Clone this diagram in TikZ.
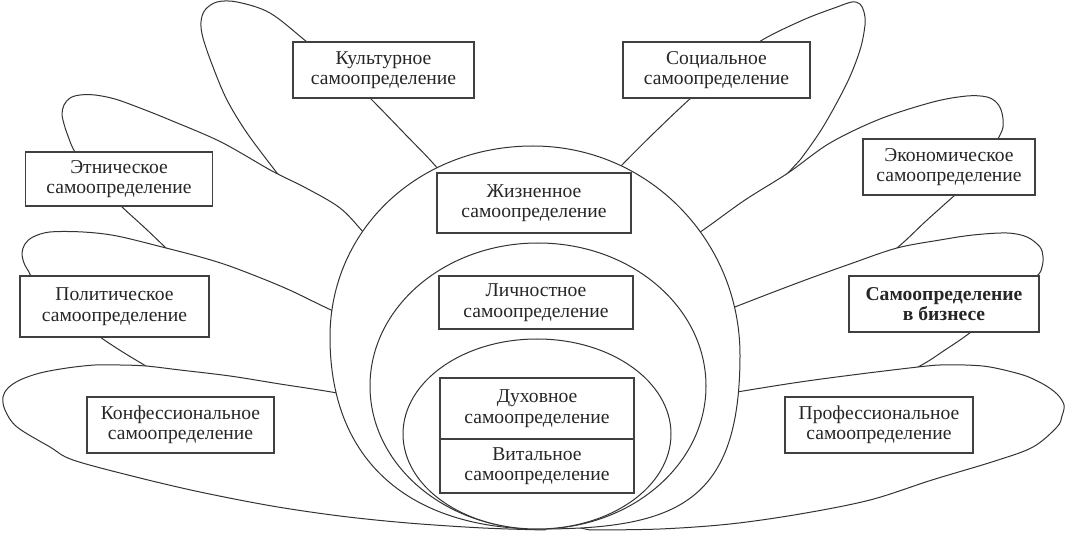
\documentclass[tikz,border=0pt]{standalone}
\usepackage{fontspec}
\setmainfont{Liberation Serif}
\begin{document}
\tikzset{
  petal/.style={draw=black!80, line width=1pt, fill=white, line join=round},
  ring/.style={draw=black!80, line width=1pt, fill=white},
  box/.style={draw=black!75, line width=1.2pt, fill=white, inner sep=0pt, align=center,
    font=\fontsize{19.6}{20.5}\selectfont, text=black!85},
  sm/.style={smooth, tension=0.55}
}
\begin{tikzpicture}[x=1pt,y=-1pt]
\useasboundingbox (0,0) rectangle (1066,534);
\fill[white] (0,0) rectangle (1066,534);

% ---------- left petals ----------
% culture
\path[petal] (535,515) -- plot[sm] coordinates {(470,212) (439,170) (404,133) (370,98) (337,66) (307,42) (270,13) (237,2) (217,2) (205,10) (201,22) (203,38) (213,67) (227,100) (247,133) (277,173) (310,215) (345,262) (400,330)} -- cycle;
% ethnic
\path[petal] (535,515) -- plot[sm] coordinates {(405,280) (364,233) (340,208) (306,188) (272,171) (221,142) (170,120) (140,108) (115,99) (95,95) (80,95) (70,98) (64,105) (62,114) (64,124) (68,136) (75,152) (95,180) (121,206) (145,228) (166,248) (205,285) (260,325) (330,370) (390,400)} -- cycle;
% political
\path[petal] (535,515) -- plot[sm] coordinates {(380,332) (331,310) (285,288) (235,268) (204,258) (166,248) (117,236) (83,232) (50,232) (33,237) (25,244) (22,253) (24,263) (29,272) (33,278) (60,305) (100,337) (146,366) (200,395) (270,425) (350,455) (410,472)} -- cycle;
% confessional
\path[petal] (560,515) -- plot[sm] coordinates {(395,405) (337,393) (280,384) (230,376) (180,370) (146,366) (120,365) (95,365) (67,368) (40,373) (20,380) (8,388) (3,397) (5,410) (17,427) (50,447) (73,460) (136,477) (200,492) (272,506) (340,516) (408,523) (483,528) (545,530)} -- cycle;

% ---------- right petals ----------
% social
\path[petal] (535,515) -- plot[sm] coordinates {(585,205) (622,165) (656,131) (691,98) (725,70) (759,42) (803,20) (837,7) (852,2) (860,4) (864,12) (865,25) (860,50) (847,83) (823,127) (800,160) (788,173) (760,205) (725,245) (690,290)} -- cycle;
% economic
\path[petal] (535,515) -- plot[sm] coordinates {(665,256) (706,228) (745,200) (788,173) (830,143) (880,119) (933,102) (967,96) (987,97) (997,103) (1002,113) (1003,127) (998,139) (988,160) (972,180) (955,195) (926,221) (897,248) (850,285) (790,330) (720,380)} -- cycle;
% business
\path[petal] (535,515) -- plot[sm] coordinates {(690,325) (740,305) (800,282) (850,264) (897,248) (940,240) (973,235) (1007,233) (1027,237) (1040,247) (1043,257) (1042,267) (1037,276) (1010,300) (971,332) (945,350) (918,367) (860,395) (790,420) (700,445)} -- cycle;
% professional
\path[petal] (520,515) -- plot[sm] coordinates {(690,400) (737,392) (800,382) (860,374) (918,367) (940,365) (965,365) (990,367) (1023,375) (1043,384) (1057,394) (1064,405) (1062,416) (1057,427) (1033,447) (995,461) (932,480) (870,500) (800,514) (730,524) (660,529) (590,530)} -- cycle;

% ---------- central shapes ----------
\path[ring] (533,146) .. controls (648,146) and (740,240) .. (740,355)
  .. controls (740,500) and (680,529) .. (540,529)
  .. controls (420,529) and (330,470) .. (330,337)
  .. controls (330,230) and (418,146) .. (533,146) -- cycle;
\path[ring] (538,386) ellipse [x radius=168pt, y radius=143pt];
\path[ring] (537,434) ellipse [x radius=134pt, y radius=95pt];

% ---------- boxes ----------
\node[box, minimum width=181pt, minimum height=56pt] (cult) at (383.5,70) {Культурное\\самоопределение};
\node[box, minimum width=187pt, minimum height=56pt] (soc) at (716.5,70) {Социальное\\самоопределение};
\node[box, minimum width=187pt, minimum height=54pt] (eth) at (119,179) {Этническое\\самоопределение};
\node[box, minimum width=172pt, minimum height=56pt] (econ) at (949,167) {Экономическое\\самоопределение};
\node[box, minimum width=194pt, minimum height=60pt] (life) at (534,203) {Жизненное\\самоопределение};
\node[box, minimum width=189pt, minimum height=61pt] (pol) at (114.5,306.5) {Политическое\\самоопределение};
\node[box, minimum width=190pt, minimum height=56pt, font=\fontsize{19.6}{20.5}\selectfont\bfseries] (bus) at (944,304) {Самоопределение\\в бизнесе};
\node[box, minimum width=187pt, minimum height=56pt] (conf) at (180.5,425) {Конфессиональное\\самоопределение};
\node[box, minimum width=188pt, minimum height=56pt] (prof) at (879,425) {Профессиональное\\самоопределение};
\node[box, minimum width=194pt, minimum height=53pt] (pers) at (536,302.5) {Личностное\\самоопределение};
\node[box, minimum width=194pt, minimum height=61pt] (spir) at (537,408.5) {Духовное\\самоопределение};
\node[box, minimum width=194pt, minimum height=54pt] (vit) at (537,466) {Витальное\\самоопределение};
\end{tikzpicture}
\end{document}
